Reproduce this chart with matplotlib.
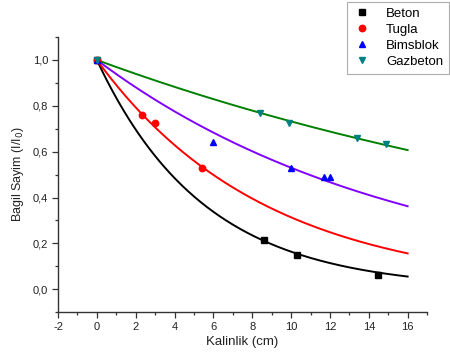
import numpy as np
import matplotlib
matplotlib.use("Agg")
import matplotlib.pyplot as plt
from matplotlib.ticker import MultipleLocator, FuncFormatter

plt.rcParams['font.family'] = ['Liberation Sans', 'DejaVu Sans']

# Measured relative counts for each material
beton_x = [0, 8.6, 10.3, 14.5]
beton_y = [1.0, 0.214, 0.148, 0.062]

tugla_x = [0, 2.3, 3.0, 5.4]
tugla_y = [1.0, 0.76, 0.725, 0.528]

bims_x = [0, 6.0, 10.0, 11.7, 12.0]
bims_y = [1.0, 0.642, 0.528, 0.489, 0.489]

gaz_x = [0, 8.4, 9.9, 13.4, 14.9]
gaz_y = [1.0, 0.769, 0.725, 0.659, 0.633]

# Fitted attenuation coefficients (1/cm) for I/I0 = exp(-mu x)
mu_beton = 0.181
mu_tugla = 0.116
mu_bims = 0.0635
mu_gaz = 0.0312

labels = ['Beton', 'Tugla', 'Bimsblok', 'Gazbeton']

fig = plt.figure(figsize=(4.5, 3.6), dpi=100)
ax = fig.add_axes([0.129, 0.133, 0.82, 0.764])

xf = np.linspace(0, 16, 300)
fits = [
    (mu_beton, '#000000'),
    (mu_tugla, '#ff0000'),
    (mu_bims, '#8000ff'),
    (mu_gaz, '#008000'),
]
for mu, c in fits:
    ax.plot(xf, np.exp(-mu * xf), color=c, lw=1.4, zorder=2)

h1, = ax.plot(beton_x, beton_y, 's', color='black', ms=3.8, ls='none', zorder=3)
h2, = ax.plot(tugla_x, tugla_y, 'o', color='#ff0000', ms=4.6, ls='none', zorder=3)
h3, = ax.plot(bims_x, bims_y, '^', color='#0000ff', ms=4.8, ls='none', zorder=3)
h4, = ax.plot(gaz_x, gaz_y, 'v', color='#008080', ms=4.8, ls='none', zorder=3)

ax.set_xlim(-2, 17)
ax.set_ylim(-0.1, 1.1)
ax.xaxis.set_major_locator(MultipleLocator(2))
ax.xaxis.set_minor_locator(MultipleLocator(1))
ax.yaxis.set_major_locator(MultipleLocator(0.2))
ax.yaxis.set_minor_locator(MultipleLocator(0.1))
ax.yaxis.set_major_formatter(FuncFormatter(lambda v, p: f"{v:.1f}".replace('.', ',').replace('-0,0', '0,0')))
ax.xaxis.set_major_formatter(FuncFormatter(lambda v, p: f"{v:g}"))

for s in ['top', 'right']:
    ax.spines[s].set_visible(False)
for s in ['left', 'bottom']:
    ax.spines[s].set_linewidth(1.0)
    ax.spines[s].set_color('#333333')

ax.tick_params(which='major', direction='out', length=4, width=0.9, labelsize=8, colors='#333333', labelcolor='#222222', pad=3)
ax.tick_params(which='minor', direction='out', length=2.5, width=0.9, colors='#333333')

ax.set_xlabel('Kalinlik (cm)', fontsize=9.5, color='#222222', labelpad=3)
ax.set_ylabel('Bagil Sayim (I/I$_0$)', fontsize=9, color='#222222', labelpad=5)

leg = fig.legend([h1, h2, h3, h4], labels, loc='upper right',
                 bbox_to_anchor=(0.998, 0.995), fontsize=9.5,
                 frameon=True, fancybox=False, handlelength=1.4,
                 handletextpad=1.1, borderpad=0.45, labelspacing=0.28,
                 borderaxespad=0, markerscale=1.0)
leg.get_frame().set_edgecolor('#999999')
leg.get_frame().set_linewidth(0.8)

fig.savefig('out.png', dpi=100)
